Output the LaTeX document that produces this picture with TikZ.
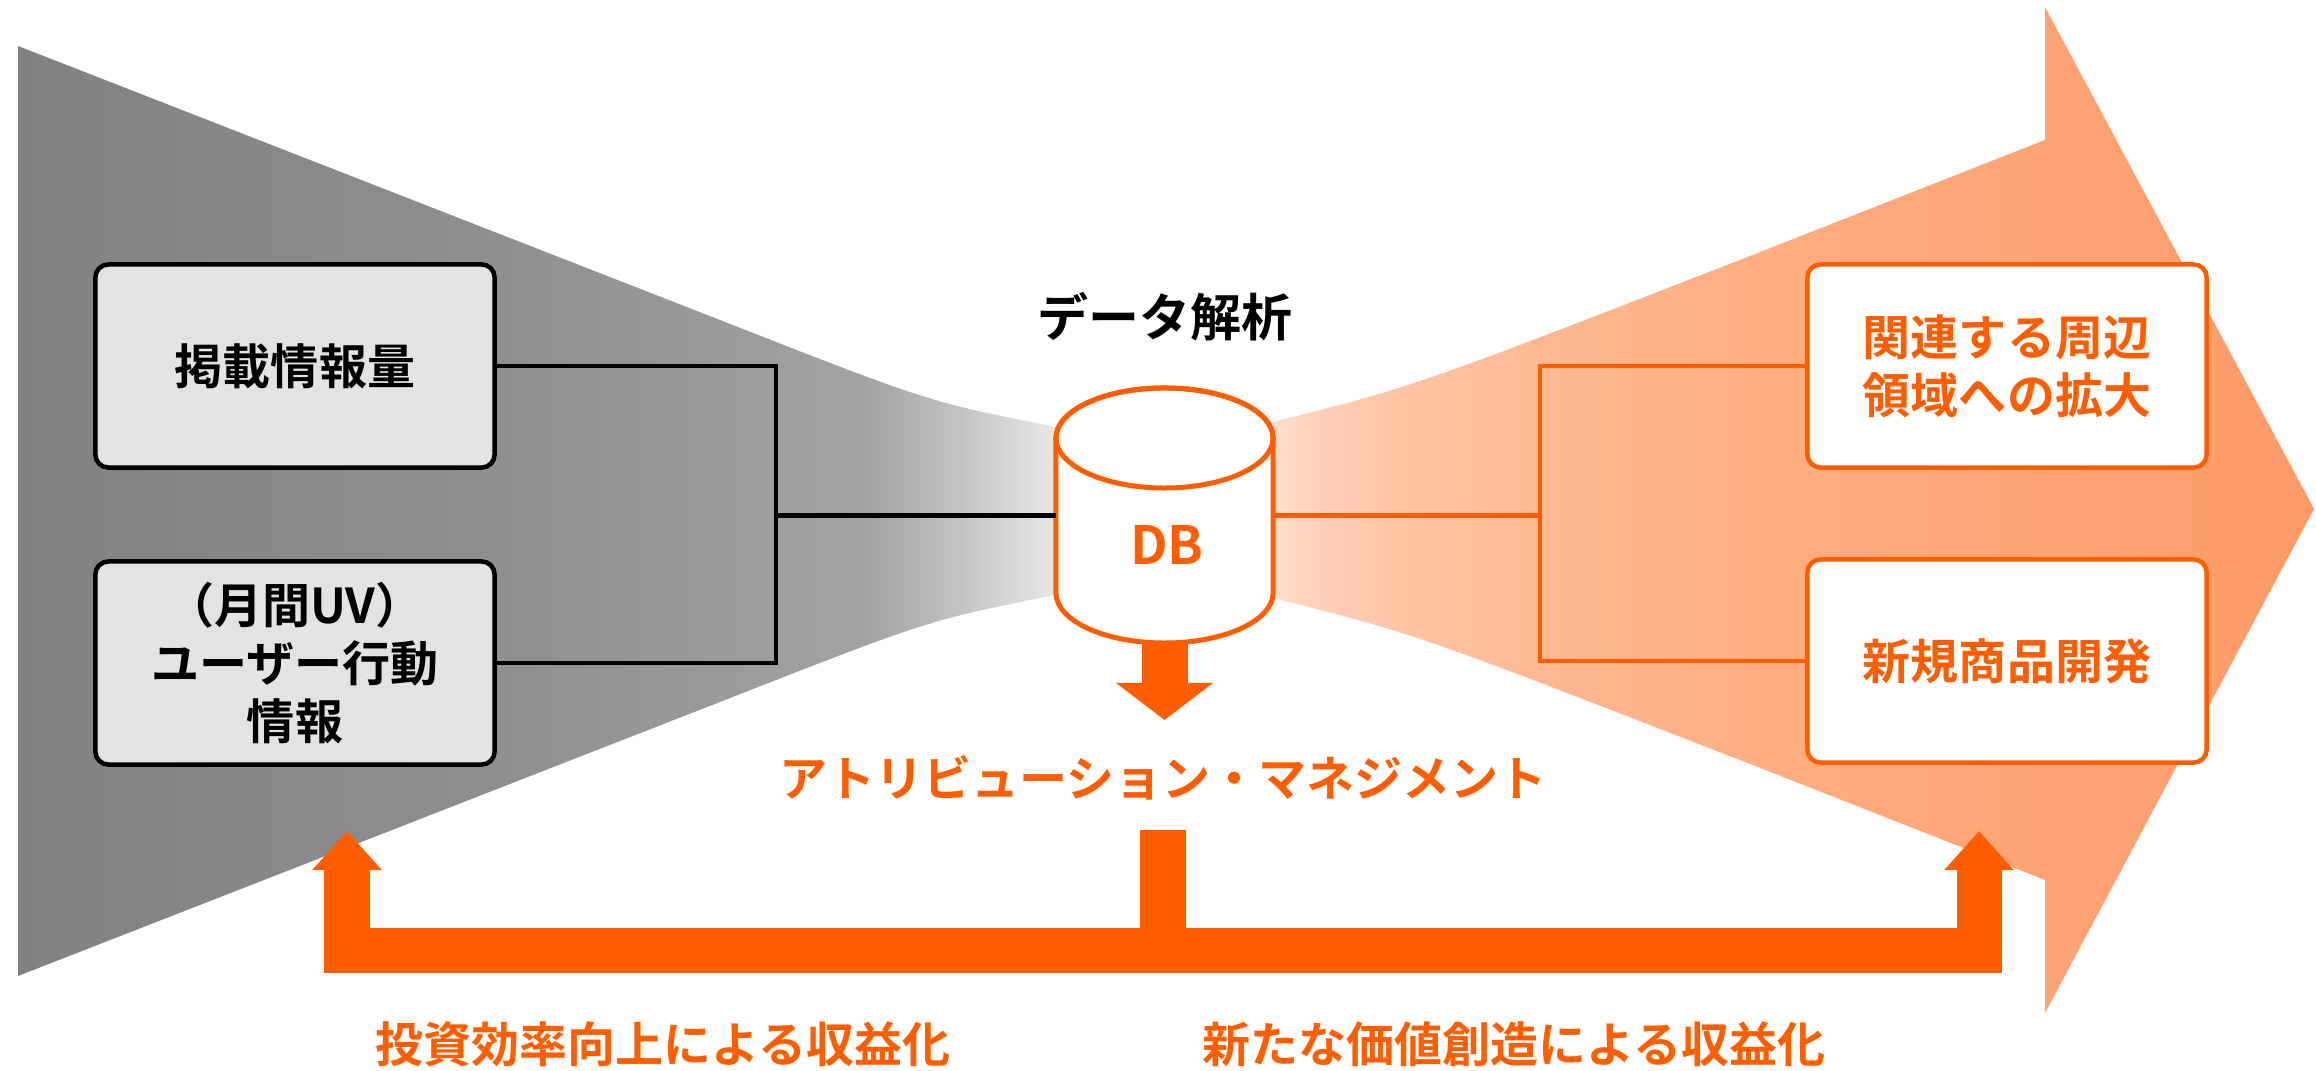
\documentclass[tikz,border=0pt]{standalone}
\usepackage{fontspec}
\setmainfont{Noto Sans CJK JP}[BoldFont={* Bold}]
\usetikzlibrary{positioning, arrows.meta, calc}
\definecolor{brand}{RGB}{255,94,0}
\definecolor{boxgray}{RGB}{227,227,227}
\definecolor{gA}{RGB}{129,129,129}
\definecolor{gB}{RGB}{143,143,143}
\definecolor{gC}{RGB}{162,162,162}
\definecolor{gD}{RGB}{168,168,168}
\definecolor{gE}{RGB}{232,232,232}
\definecolor{oA}{RGB}{255,222,205}
\definecolor{oB}{RGB}{255,212,190}
\definecolor{oC}{RGB}{255,196,165}
\definecolor{oD}{RGB}{255,183,143}
\definecolor{oE}{RGB}{255,172,127}
\definecolor{oF}{RGB}{253,155,104}
\pgfdeclarehorizontalshading{grayfunnel}{100bp}{color(0bp)=(gA); color(25bp)=(gA); color(48.2bp)=(gB); color(65.6bp)=(gC); color(66.8bp)=(gD); color(75bp)=(gE); color(100bp)=(gE)}
\pgfdeclarehorizontalshading{orangefunnel}{100bp}{color(0bp)=(oA); color(25bp)=(oA); color(26.3bp)=(oB); color(31.1bp)=(oC); color(38.8bp)=(oD); color(50.3bp)=(oE); color(75bp)=(oF); color(100bp)=(oF)}
\newcommand\jpbody{\bfseries\fontsize{13.66pt}{16.4pt}\selectfont}
\newcommand\jptitle{\bfseries\fontsize{14.5pt}{17pt}\selectfont}
\newcommand\jpdb{\bfseries\fontsize{15pt}{17pt}\selectfont}
\tikzset{
    graybox/.style={draw=black, line width=0.045cm, rounded corners=0.13cm, fill=boxgray, minimum width=3.99cm, minimum height=2.03cm, align=center, inner sep=0pt, font=\jpbody},
    orangebox/.style={graybox, draw=brand, fill=white, text=brand},
    orangetext/.style={inner sep=0pt, text=brand, font=\jpbody},
    titletext/.style={inner sep=0pt, text=black, font=\jptitle},
    dbnode/.style={inner sep=0pt, outer sep=0pt, minimum width=2.17cm, minimum height=2.55cm},
    dbline/.style={draw=brand, line width=0.05cm},
    blackline/.style={draw=black, line width=0.042cm},
    orangeline/.style={draw=brand, line width=0.042cm},
    fatarrow/.style={draw=brand, line width=0.46cm, -{Triangle[width=0.95cm, length=0.37cm]}},
    feedback/.style={draw=brand, line width=0.45cm, {Triangle[width=0.67cm, length=0.39cm]}-{Triangle[width=0.67cm, length=0.39cm]}},
    feedstem/.style={draw=brand, line width=0.46cm}
}
\begin{document}
\begin{tikzpicture}[x=0.01cm, y=0.01cm]
	\useasboundingbox (0,0) rectangle (2316,1070);
	% funnels
	\shade[shading=grayfunnel] (18,1024) -- (720,750) .. controls (929,668) .. (1056,643) -- (1056,475) .. controls (929,450) .. (720,368) -- (18,94) -- cycle;
	\shade[shading=orangefunnel] (1273,648) .. controls (1416,684) .. (1750,814) -- (2045,930) -- (2045,1063) -- (2314,561) -- (2045,57) -- (2045,190) -- (1750,306) .. controls (1416,436) .. (1273,472) -- cycle;
	% boxes
	\node(Keisai)[graybox] at (295,704) {掲載情報量};
	\node(UserInfo)[graybox] at (295,407) {（月間UV）\\ユーザー行動\\情報};
	\node(Related)[orangebox] at (2007,704) {関連する周辺\\領域への拡大};
	\node(NewProduct)[orangebox] at (2007,409) {新規商品開発};
	% database
	\node(DB)[dbnode] at (1164.5,554.5) {};
	\coordinate(DownTip) at (1164.5,350);
	\draw[fatarrow] (DB.south) -- (DownTip);
	\draw[dbline, fill=white] (DB.west |- 0,632) -- (DB.west |- 0,477) arc[start angle=180, end angle=360, x radius=1.085cm, y radius=0.5cm] -- (DB.east |- 0,632) arc[start angle=0, end angle=180, x radius=1.085cm, y radius=0.5cm] -- cycle;
	\draw[dbline] (1164.5,632) ellipse [x radius=1.085cm, y radius=0.5cm];
	\node(DBlabel)[orangetext, font=\jpdb] at (1167,525) {DB};
	\node(Analysis)[titletext, above=0.46cm of DB] {データ解析};
	% connectors
	\coordinate(LeftJoin) at (776,554.5);
	\coordinate(RightJoin) at (1540,554.5);
	\draw[blackline] (Keisai.east) -| (LeftJoin) |- (UserInfo.east);
	\draw[blackline] (LeftJoin) -- (DB.west);
	\draw[orangeline] (DB.east) -- (RightJoin);
	\draw[orangeline] (Related.west) -| (RightJoin) |- (NewProduct.west);
	% attribution and feedback
	\node(Attribution)[orangetext] at (1163,292) {アトリビューション・マネジメント};
	\coordinate(StemTop) at (1163,240);
	\coordinate(BarMid) at (1163,119.5);
	\coordinate(InvestTip) at (347,239);
	\coordinate(ValueTip) at (1979,239);
	\draw[feedstem] (StemTop) -- (BarMid);
	\draw[feedback] (InvestTip) |- (BarMid) -| (ValueTip);
	\node(Invest)[orangetext] at (663,26) {投資効率向上による収益化};
	\node(NewValue)[orangetext] at (1514,26) {新たな価値創造による収益化};
\end{tikzpicture}
\end{document}
